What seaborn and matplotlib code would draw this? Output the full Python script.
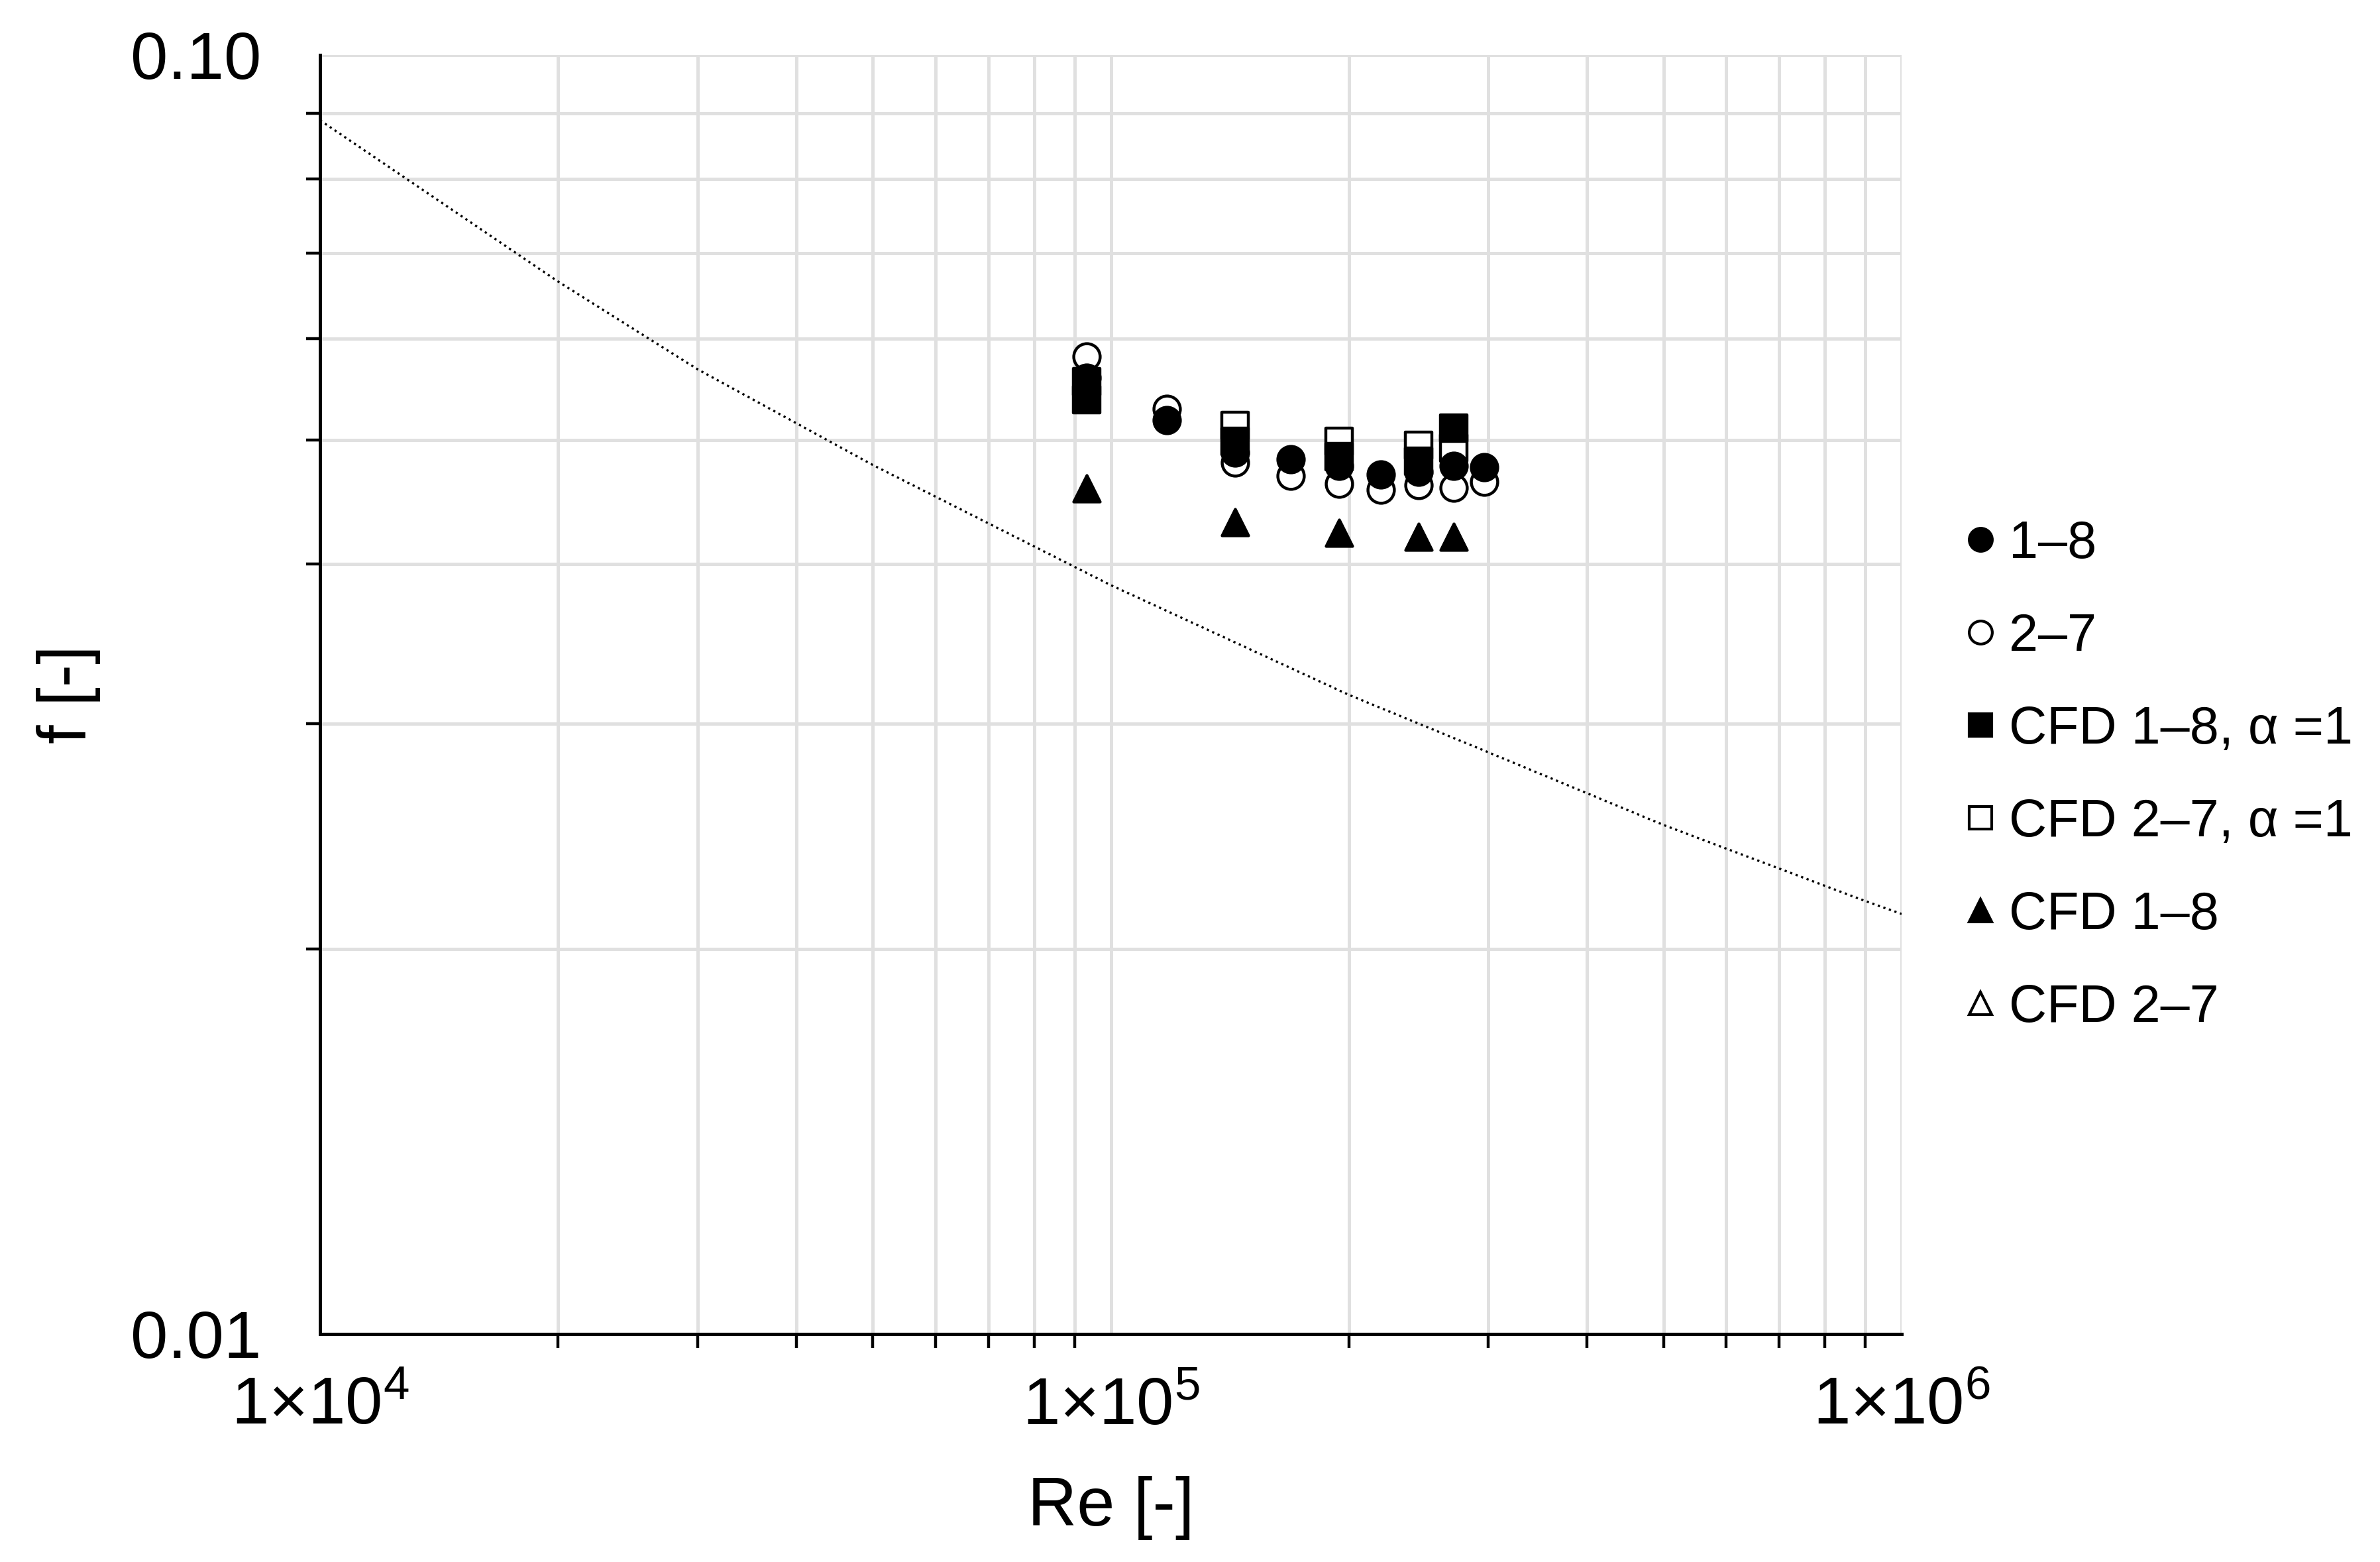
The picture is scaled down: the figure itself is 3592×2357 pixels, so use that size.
import seaborn as sns
import matplotlib.pyplot as plt
from matplotlib.lines import Line2D
from matplotlib.ticker import FixedLocator, NullFormatter

# reference curve
re_curve = [1e4, 2e4, 3e4, 5e4, 1e5, 2e5, 3e5, 5e5, 9e5, 1e6]
f_curve = [0.0889, 0.0665, 0.0568, 0.0478, 0.0385, 0.0316, 0.0285, 0.0250, 0.0218, 0.0213]

# measurements
re_18 = [93200, 117800, 143500, 168700, 194400, 219500, 245200, 271500, 296600]
f_18 = [0.0559, 0.0518, 0.0489, 0.0483, 0.0477, 0.0470, 0.0472, 0.0477, 0.0476]
re_27 = [93200, 117800, 143500, 168700, 194400, 219500, 245200, 271500, 296600]
f_27 = [0.0581, 0.0529, 0.0480, 0.0469, 0.0462, 0.0457, 0.0461, 0.0459, 0.0464]

# CFD
re_cfd18_a = [93200, 93200, 143500, 194400, 245200, 271500]
f_cfd18_a = [0.0555, 0.0538, 0.0499, 0.0485, 0.0481, 0.0511]
re_cfd27_a = [143500, 194400, 245200, 271500]
f_cfd27_a = [0.0513, 0.0499, 0.0495, 0.0493]
re_cfd18 = [93200, 143500, 194400, 245200, 271500]
f_cfd18 = [0.0458, 0.0431, 0.0423, 0.0420, 0.0420]
re_cfd27 = []
f_cfd27 = []

labels = ['1–8', '2–7', 'CFD 1–8, α =1', 'CFD 2–7, α =1', 'CFD 1–8', 'CFD 2–7']

sns.set_theme(style='white')
plt.rcParams['font.family'] = ['Liberation Sans', 'DejaVu Sans']
plt.rcParams['mathtext.fontset'] = 'custom'
plt.rcParams['mathtext.rm'] = 'Liberation Sans'
plt.rcParams['mathtext.default'] = 'regular'
for key in ['text.color', 'axes.labelcolor', 'xtick.color', 'ytick.color']:
    plt.rcParams[key] = 'black'

fig = plt.figure(figsize=(17.96, 11.785), dpi=200)
ax = fig.add_axes([0.1345, 0.146, 0.6645, 0.8188])

sns.lineplot(x=re_curve, y=f_curve, color='black', linestyle=':', linewidth=1.2, ax=ax, zorder=3)

ms = 205
ew = 1.6
sns.scatterplot(x=re_27, y=f_27, marker='o', s=ms, color='white', edgecolor='black', linewidth=ew, ax=ax, zorder=4)
sns.scatterplot(x=re_cfd27_a, y=f_cfd27_a, marker='s', s=ms, color='white', edgecolor='black', linewidth=ew, ax=ax, zorder=4)
sns.scatterplot(x=re_18, y=f_18, marker='o', s=ms, color='black', edgecolor='black', linewidth=ew, ax=ax, zorder=5)
sns.scatterplot(x=re_cfd18_a, y=f_cfd18_a, marker='s', s=ms, color='black', edgecolor='black', linewidth=ew, ax=ax, zorder=5)
sns.scatterplot(x=re_cfd18, y=f_cfd18, marker='^', s=ms, color='black', edgecolor='black', linewidth=ew, ax=ax, zorder=5)
if re_cfd27:
    sns.scatterplot(x=re_cfd27, y=f_cfd27, marker='^', s=ms, color='white', edgecolor='black', linewidth=ew, ax=ax, zorder=5)

ax.set_xscale('log')
ax.set_yscale('log')
ax.set_xlim(1e4, 1e6)
ax.set_ylim(0.01, 0.1)

ax.xaxis.set_major_locator(FixedLocator([1e4, 1e5, 1e6]))
ax.set_xticklabels([r'1$\times$10$^{4}$', r'1$\times$10$^{5}$', r'1$\times$10$^{6}$'])
ax.yaxis.set_major_locator(FixedLocator([0.01, 0.1]))
ax.set_yticklabels(['0.01', '0.10'])
ax.xaxis.set_minor_formatter(NullFormatter())
ax.yaxis.set_minor_formatter(NullFormatter())

ax.grid(which='both', color='#e0e0e0', linewidth=1.8)
ax.set_axisbelow(True)
for side in ['top', 'right']:
    ax.spines[side].set_visible(False)
for side in ['left', 'bottom']:
    ax.spines[side].set_color('black')
    ax.spines[side].set_linewidth(1.8)

ax.tick_params(which='major', direction='out', length=10.8, width=1.6, color='black', labelsize=36.5)
ax.tick_params(which='minor', direction='out', length=7.5, width=1.6, color='black')
ax.tick_params(axis='x', which='major', pad=12)
ax.tick_params(axis='y', which='major', pad=21)
ax.tick_params(axis='x', which='minor', bottom=True)
ax.tick_params(axis='y', which='minor', left=True)

ax.set_xlabel('Re [-]', fontsize=37, va='center')
ax.set_ylabel('f [-]', fontsize=37, va='center')
ax.xaxis.set_label_coords(0.5, -0.136)
ax.yaxis.set_label_coords(-0.159, 0.5)

handles = [
    Line2D([], [], ls='none', marker='o', ms=12.5, mfc='black', mec='black', mew=1.5),
    Line2D([], [], ls='none', marker='o', ms=12.5, mfc='white', mec='black', mew=1.5),
    Line2D([], [], ls='none', marker='s', ms=12.5, mfc='black', mec='black', mew=1.5),
    Line2D([], [], ls='none', marker='s', ms=12.5, mfc='white', mec='black', mew=1.5),
    Line2D([], [], ls='none', marker='^', ms=12.5, mfc='black', mec='black', mew=1.5),
    Line2D([], [], ls='none', marker='^', ms=12.5, mfc='white', mec='black', mew=1.5),
]
fig.legend(handles, labels, loc='center left', bbox_to_anchor=(0.8255, 0.503),
           frameon=False, fontsize=28.5, handlelength=0.6, handletextpad=0.25,
           labelspacing=0.82, borderpad=0, borderaxespad=0)

fig.savefig('out.png', dpi=200, facecolor='white')
